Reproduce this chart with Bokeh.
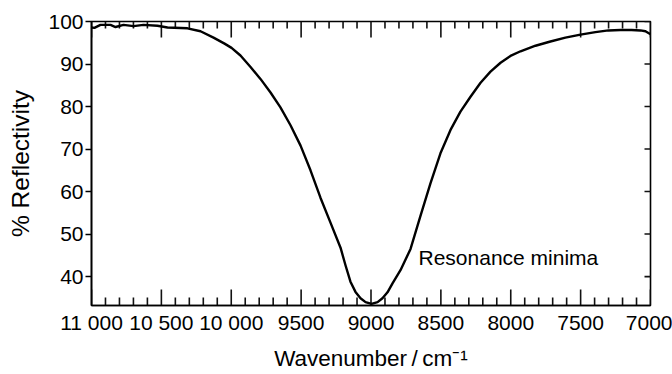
from bokeh.plotting import figure
from bokeh.models import Range1d, FixedTicker, LinearAxis, ColumnDataSource
from bokeh.core.properties import value
from bokeh.embed import file_html
from bokeh.resources import INLINE

# ---- data ----
wavenumber = [11000, 10979, 10936, 10864, 10828, 10771, 10699, 10628, 10528, 10456,
              10313, 10220, 10127, 10048, 9998, 9934, 9862, 9791, 9719, 9648,
              9576, 9504, 9433, 9361, 9290, 9218, 9182, 9147, 9111, 9075,
              9039, 8996, 8953, 8918, 8882, 8846, 8789, 8717, 8646, 8574,
              8503, 8431, 8360, 8288, 8216, 8145, 8073, 8002, 7930, 7823,
              7716, 7609, 7501, 7394, 7301, 7215, 7136, 7072, 7036, 7000]
reflectivity = [98.6, 98.5, 99.2, 99.2, 98.7, 99.2, 98.9, 99.2, 99.0, 98.6,
                98.4, 97.7, 96.2, 94.8, 93.8, 92.0, 89.3, 86.5, 83.3, 79.8,
                75.6, 70.8, 65.0, 58.5, 52.7, 46.8, 42.6, 38.8, 36.4, 34.9,
                34.0, 33.6, 34.0, 34.9, 36.3, 38.4, 41.5, 46.5, 54.3, 62.0,
                69.0, 74.5, 78.8, 82.3, 85.6, 88.2, 90.3, 91.9, 93.0, 94.3,
                95.3, 96.2, 96.9, 97.5, 97.9, 98.0, 98.0, 97.9, 97.7, 97.0]

x_major = [11000, 10500, 10000, 9500, 9000, 8500, 8000, 7500, 7000]
x_labels = ["11 000", "10 500", "10 000", "9500", "9000", "8500", "8000", "7500", "7000"]
x_minor = [w for w in range(7000, 11001, 100) if w not in x_major]
y_major = [40, 50, 60, 70, 80, 90, 100]

x_start, x_end = 11000, 7000
y_start, y_end = 33.2, 100

annotation_text = "Resonance minima"
annotation_x = 8660
annotation_y = 44.6

FONT = "Liberation Sans"
W, H = 672, 374
BL, BR, BT, BB = 91, 22, 21, 69

p = figure(width=W, height=H, output_backend="svg", toolbar_location=None,
           x_range=Range1d(x_start, x_end), y_range=Range1d(y_start, y_end),
           x_axis_location=None, y_axis_location=None,
           min_border_left=BL, min_border_right=BR, min_border_top=BT, min_border_bottom=BB)
p.grid.visible = False
p.outline_line_color = "black"
p.outline_line_width = 1.6
p.background_fill_color = "white"
p.border_fill_color = "white"

xt = FixedTicker(ticks=x_major, minor_ticks=[])
yt = FixedTicker(ticks=y_major, minor_ticks=[])


def style(ax):
    ax.axis_line_color = "black"
    ax.axis_line_width = 1.6
    ax.major_tick_line_color = "black"
    ax.major_tick_line_width = 1.3
    ax.minor_tick_line_color = None
    ax.major_label_text_font = FONT
    ax.major_label_text_font_size = "21px"
    ax.major_label_text_color = "black"
    ax.axis_label_text_font = FONT
    ax.axis_label_text_font_style = "normal"
    ax.axis_label_text_color = "black"


bottom = LinearAxis(ticker=xt, axis_label="Wavenumber\u2009/\u2009cm\u207b\u00b9")
style(bottom)
bottom.axis_label_text_font_size = "22.5px"
bottom.major_label_overrides = {t: l for t, l in zip(x_major, x_labels)}
bottom.major_tick_in = 0
bottom.major_tick_out = 0
bottom.major_label_standoff = 5
bottom.axis_label_standoff = 9
p.add_layout(bottom, "below")

left = LinearAxis(ticker=yt, axis_label="% Reflectivity")
style(left)
left.axis_label_text_font_size = "24.5px"
left.major_tick_in = 0
left.major_tick_out = 6
left.major_label_standoff = 2
left.axis_label_standoff = 11
p.add_layout(left, "left")

px_y = (y_end - y_start) / (H - BT - BB)
TICK_COLOR = "#111111"

# bottom inward ticks
bot_src = ColumnDataSource(dict(
    x=x_major + x_minor,
    y0=[y_start] * (len(x_major) + len(x_minor)),
    y1=[y_start + 16 * px_y] * len(x_major) + [y_start + 8 * px_y] * len(x_minor),
))
p.segment(x0="x", y0="y0", x1="x", y1="y1", source=bot_src, line_color=TICK_COLOR, line_width=1.6)

# top inward ticks
top_src = ColumnDataSource(dict(
    x=x_major + x_minor,
    y0=[y_end] * (len(x_major) + len(x_minor)),
    y1=[y_end - 16 * px_y] * len(x_major) + [y_end - 7 * px_y] * len(x_minor),
))
p.segment(x0="x", y0="y0", x1="x", y1="y1", source=top_src, line_color=TICK_COLOR, line_width=1.6)

# right inward ticks
p.rect(x=[x_end] * len(y_major), y=y_major, width=12, height=1.6,
       width_units="screen", height_units="screen", fill_color=TICK_COLOR, line_color=None)

p.line(wavenumber, reflectivity, line_color="black", line_width=2.4, line_join="round")

p.text(x=[annotation_x], y=[annotation_y], text=[annotation_text],
       text_font=value(FONT), text_font_size="21px", text_color="black",
       text_align="left", text_baseline="middle")

open("out.html", "w").write(file_html(p, INLINE))
